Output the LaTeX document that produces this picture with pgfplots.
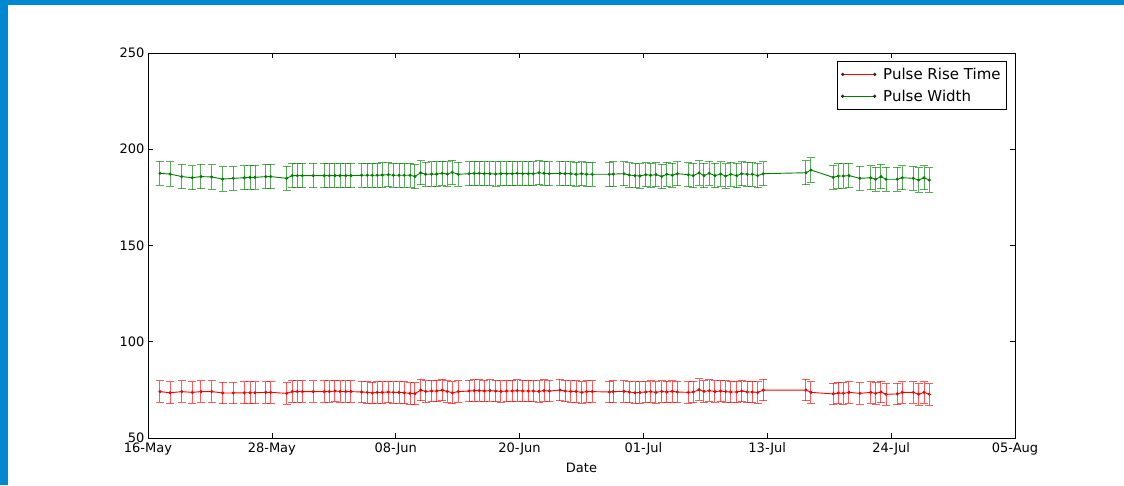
\documentclass[border=0pt]{standalone}
\usepackage{pgfplots}
\pgfplotsset{compat=1.18}
\usepackage{pgfplotstable}
\usepackage{fontspec}
\setmainfont{DejaVu Sans}
\definecolor{mplgreen}{RGB}{0,128,0}
\definecolor{mplred}{RGB}{255,0,0}
\definecolor{winblue}{RGB}{0,136,209}

% x = days after 16-May, y = value, e = error half-width
\pgfplotstableread{
x y e
1.12 187.5 6.3
2.06 187.1 6.3
3.15 185.8 6.3
4.14 185.2 6.3
4.95 185.8 6.3
5.95 185.6 6.3
6.98 184.5 6.3
7.97 184.9 6.3
9.00 185.2 6.3
9.53 185.4 6.3
10.00 185.4 6.3
11.00 185.8 6.3
11.46 185.8 6.3
12.96 184.9 6.3
13.48 186.3 6.3
13.95 186.3 6.3
14.42 186.3 6.3
15.44 186.3 6.3
16.47 186.3 6.3
16.94 186.3 6.3
17.47 186.3 6.3
17.94 186.3 6.3
18.47 186.3 6.3
18.96 186.3 6.3
19.96 186.5 6.3
20.49 186.5 6.3
20.95 186.5 6.3
21.42 186.5 6.3
21.89 186.6 6.3
22.45 186.8 6.3
22.92 186.5 6.3
23.45 186.5 6.3
23.94 186.5 6.3
24.48 186.5 6.3
24.94 185.9 6.3
25.48 187.8 6.3
25.94 187.0 6.3
26.50 187.1 6.3
26.97 187.1 6.3
27.49 187.5 6.3
27.96 187.1 6.3
28.43 188.0 6.3
28.99 187.0 6.3
29.99 187.3 6.3
30.48 187.5 6.3
30.95 187.5 6.3
31.42 187.3 6.3
31.95 187.3 6.3
32.48 187.1 6.3
32.97 187.3 6.3
33.51 187.3 6.3
34.03 187.3 6.3
34.50 187.5 6.3
35.01 187.3 6.3
35.53 187.3 6.3
36.00 187.3 6.3
36.53 187.8 6.3
37.00 187.5 6.3
37.49 187.3 6.3
38.49 187.5 6.3
38.96 187.3 6.3
39.49 187.3 6.3
39.99 187.0 6.3
40.52 187.3 6.3
40.98 187.0 6.3
41.51 187.0 6.3
43.10 187.0 6.3
43.47 187.1 6.3
44.47 187.3 6.3
44.96 186.6 6.3
45.50 186.3 6.3
45.96 186.1 6.3
46.50 186.8 6.3
46.96 186.5 6.3
47.46 186.8 6.3
47.99 185.9 6.3
48.46 187.0 6.3
48.98 186.5 6.3
49.45 187.3 6.3
50.48 186.8 6.3
50.94 186.3 6.3
51.48 187.7 6.3
51.94 186.3 6.3
52.44 187.5 6.3
52.97 186.3 6.3
53.50 187.1 6.3
53.97 186.1 6.3
54.44 187.0 6.3
55.00 186.3 6.3
55.47 187.3 6.3
55.99 187.0 6.3
56.45 187.0 6.3
56.96 186.3 6.3
57.48 187.3 6.3
61.47 187.8 6.3
61.94 189.2 6.3
64.02 185.4 6.3
64.49 186.1 6.3
64.96 186.1 6.3
65.49 186.3 6.3
66.51 184.9 6.3
67.52 185.2 6.3
67.98 184.4 6.3
68.48 185.8 6.3
68.95 184.4 6.3
70.00 184.4 6.3
70.47 185.2 6.3
71.50 184.9 6.3
72.00 184.0 6.3
72.50 185.2 6.3
72.99 184.0 6.3
}\widthdata

\pgfplotstableread{
x y e
1.12 74.1 5.6
2.06 73.5 5.6
3.15 74.1 5.6
4.14 73.7 5.6
4.95 74.1 5.6
5.95 74.1 5.6
6.98 73.4 5.6
7.97 73.4 5.6
9.00 73.5 5.6
9.53 73.5 5.6
10.00 73.5 5.6
11.00 73.7 5.6
11.46 73.7 5.6
12.96 73.2 5.6
13.48 74.1 5.6
13.95 74.1 5.6
14.42 74.1 5.6
15.44 74.1 5.6
16.47 74.1 5.6
16.94 74.1 5.6
17.47 74.4 5.6
17.94 74.2 5.6
18.47 74.1 5.6
18.96 74.1 5.6
19.96 73.9 5.6
20.49 73.7 5.6
20.95 73.4 5.6
21.42 73.7 5.6
21.89 73.7 5.6
22.45 73.9 5.6
22.92 73.7 5.6
23.45 73.7 5.6
23.94 73.5 5.6
24.48 73.2 5.6
24.94 73.0 5.6
25.48 74.9 5.6
25.94 74.2 5.6
26.50 74.4 5.6
26.97 74.4 5.6
27.49 74.9 5.6
27.96 74.2 5.6
28.43 73.5 5.6
28.99 74.1 5.6
29.99 74.4 5.6
30.48 74.6 5.6
30.95 74.6 5.6
31.42 74.4 5.6
31.95 74.6 5.6
32.48 74.4 5.6
32.97 74.2 5.6
33.51 74.4 5.6
34.03 74.4 5.6
34.50 74.6 5.6
35.01 74.4 5.6
35.53 74.4 5.6
36.00 74.4 5.6
36.53 74.2 5.6
37.00 74.6 5.6
37.49 74.4 5.6
38.49 74.9 5.6
38.96 74.4 5.6
39.49 74.2 5.6
39.99 74.2 5.6
40.52 73.7 5.6
40.98 74.1 5.6
41.51 74.1 5.6
43.10 73.9 5.6
43.47 74.1 5.6
44.47 74.2 5.6
44.96 73.9 5.6
45.50 73.5 5.6
45.96 73.7 5.6
46.50 73.9 5.6
46.96 74.1 5.6
47.46 73.7 5.6
47.99 74.2 5.6
48.46 73.9 5.6
48.98 74.2 5.6
49.45 73.9 5.6
50.48 73.7 5.6
50.94 73.9 5.6
51.48 75.1 5.6
51.94 74.2 5.6
52.44 74.6 5.6
52.97 74.1 5.6
53.50 74.4 5.6
53.97 74.1 5.6
54.44 73.9 5.6
55.00 73.9 5.6
55.47 74.4 5.6
55.99 73.9 5.6
56.45 73.9 5.6
56.96 73.7 5.6
57.48 74.9 5.6
61.47 74.9 5.6
61.94 73.7 5.6
64.02 72.9 5.6
64.49 73.4 5.6
64.96 73.2 5.6
65.49 73.7 5.6
66.51 73.2 5.6
67.52 73.7 5.6
67.98 73.2 5.6
68.48 73.9 5.6
68.95 72.7 5.6
70.00 72.9 5.6
70.47 73.7 5.6
71.50 73.7 5.6
72.00 72.7 5.6
72.50 73.7 5.6
72.99 72.7 5.6
}\risedata

\begin{document}
\begin{tikzpicture}
\path (-148pt,-47pt) rectangle (976pt,438pt);
\begin{axis}[
  scale only axis, width=867pt, height=385pt,
  at={(0,0)}, anchor=south west,
  xmin=0, xmax=81, ymin=50, ymax=250,
  xtick={0,11.5714,23.1429,34.7143,46.2857,57.8571,69.4286,81},
  xticklabels={16-May,28-May,08-Jun,20-Jun,01-Jul,13-Jul,24-Jul,05-Aug},
  ytick={50,100,150,200,250},
  tick align=inside, major tick length=5pt,
  tick style={black, line width=0.6pt},
  axis line style={black, line width=0.9pt},
  xlabel={Date},
  xlabel style={font=\fontsize{13}{15}\selectfont, yshift=-1pt},
  xticklabel style={yshift=-1pt},
  tick label style={font=\fontsize{13}{15}\selectfont},
  /pgf/number format/assume math mode=true,
  legend style={at={(1,1)}, xshift=-8pt, yshift=-8pt, anchor=north east,
    font=\fontsize{15}{18}\selectfont, draw=black, line width=0.8pt,
    inner xsep=4pt, inner ysep=4.5pt, row sep=5pt, column sep=5pt},
  legend cell align=left,
  legend image code/.code={%
    \draw[#1, mark=none] (0pt,0pt) -- (32pt,0pt);
    \fill[black!85] (0pt,0pt) circle (1.1pt);
    \fill[black!85] (32pt,0pt) circle (1.1pt);},
]
\addplot[mplred, line width=0.9pt, mark=*, mark size=1.05pt,
  mark options={fill=black!85, draw=none},
  error bars/.cd, y dir=both, y explicit,
  error bar style={mplred, opacity=0.65, line width=1pt},
  error mark options={mplred, opacity=0.65, line width=1pt, mark size=4pt, rotate=90}]
  table[x=x, y=y, y error=e]{\risedata};
\addlegendentry{Pulse Rise Time}
\addplot[mplgreen, line width=0.9pt, mark=*, mark size=1.05pt,
  mark options={fill=black!85, draw=none},
  error bars/.cd, y dir=both, y explicit,
  error bar style={mplgreen, opacity=0.65, line width=1pt},
  error mark options={mplgreen, opacity=0.65, line width=1pt, mark size=4pt, rotate=90}]
  table[x=x, y=y, y error=e]{\widthdata};
\addlegendentry{Pulse Width}
\end{axis}
\fill[winblue] (-148pt,433pt) rectangle (976pt,438pt);
\fill[winblue] (-148pt,-47pt) rectangle (-140pt,438pt);
\end{tikzpicture}
\end{document}
